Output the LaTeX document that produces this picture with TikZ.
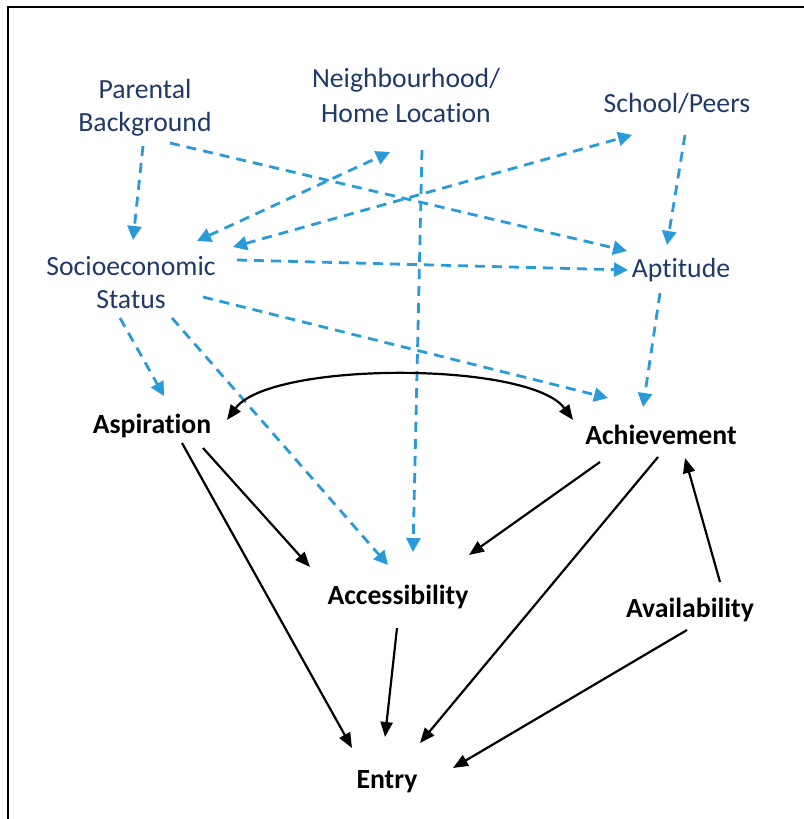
\documentclass[tikz,border=0pt]{standalone}
\usepackage{fontspec}
\setmainfont{Carlito}[Ligatures=NoCommon]
\usetikzlibrary{arrows.meta,calc}

\definecolor{navytext}{RGB}{31,58,104}
\definecolor{dashblue}{RGB}{41,155,216}

\begin{document}
\begin{tikzpicture}[
  x=0.5pt, y=-0.5pt,
  factor/.style={inner sep=0pt, align=center, text=navytext, font=\fontsize{13.85}{16.5}\selectfont},
  outcome/.style={inner sep=0pt, anchor=base, font=\fontsize{13.85}{16.5}\selectfont\bfseries},
  dasharrow/.style={-{Triangle[length=7pt,width=7pt]}, draw=dashblue, line width=1.4pt, dash pattern=on 5pt off 3.5pt},
  arrow/.style={-{Triangle[length=7.5pt,width=6pt]}, line width=1.1pt}
]
\useasboundingbox (0,0) rectangle (803,819);
\draw[line width=1pt] (8,840) -- (8,7) -- (820,7);

% background factors
\node[factor] (pb) at (145,108) {Parental\\Background};
\node[factor] (nh) at (406,95) {Neighbourhood/\\[1pt]Home Location};
\node[factor, anchor=base] (sp) at (677,112) {School/Peers};
\node[factor] (ses) at (131,283) {Socioeconomic\\Status};
\node[factor, anchor=base] (apt) at (681,277) {Aptitude};

% outcomes
\node[outcome] (asp) at (152,433) {Aspiration};
\node[outcome] (ach) at (661,444) {Achievement};
\node[outcome] (acc) at (398,604) {Accessibility};
\node[outcome] (ava) at (690,617) {Availability};
\node[outcome] (ent) at (387,788) {Entry};

\draw[dasharrow] ($(pb)+(-2,38)$) -- ($(ses)+(2,-43)$);
\draw[dasharrow] ($(pb)+(25,35)$) -- ($(apt.base)+(-54,-26)$);
\draw[dasharrow, {Triangle[length=7pt,width=7pt]}-{Triangle[length=7pt,width=7pt]}] ($(ses)+(66,-42)$) -- ($(nh)+(-16,57)$);
\draw[dasharrow, {Triangle[length=7pt,width=7pt]}-{Triangle[length=7pt,width=7pt]}] ($(ses)+(102,-36)$) -- ($(sp.base)+(-45,23)$);
\draw[dasharrow] ($(ses)+(106,-23)$) -- ($(apt.base)+(-53,-7)$);
\draw[dasharrow] ($(sp.base)+(8,23)$) -- ($(apt.base)+(-14,-32)$);
\draw[dasharrow] ($(nh)+(16,55)$) -- ($(acc.base)+(15,-52)$);
\draw[dasharrow] ($(ses)+(-11,35)$) -- ($(asp.base)+(12,-37)$);
\draw[dasharrow] ($(ses)+(41,35)$) -- ($(acc.base)+(-10,-39)$);
\draw[dasharrow] ($(ses)+(72,14)$) -- ($(ach.base)+(-53,-46)$);
\draw[dasharrow] ($(apt.base)+(-21,16)$) -- ($(ach.base)+(-18,-37)$);

\draw[arrow, {Triangle[length=7.5pt,width=6pt]}-{Triangle[length=7.5pt,width=6pt]}] ($(asp.base)+(75,-13)$) .. controls +(43,-59) and +(-43,-59) .. ($(ach.base)+(-88,-24)$);
\draw[arrow] ($(asp.base)+(51,15)$) -- ($(acc.base)+(-88,-37)$);
\draw[arrow] ($(asp.base)+(30,10)$) -- ($(ent.base)+(-35,-40)$);
\draw[arrow] ($(ach.base)+(-61,18)$) -- ($(acc.base)+(71,-49)$);
\draw[arrow] ($(ach.base)+(-3,13)$) -- ($(ent.base)+(33,-45)$);
\draw[arrow] ($(acc.base)+(-1,24)$) -- ($(ent.base)+(-2,-51)$);
\draw[arrow] ($(ava.base)+(30,-35)$) -- ($(ach.base)+(24,14)$);
\draw[arrow] ($(ava.base)+(-3,13)$) -- ($(ent.base)+(66,-20)$);

\end{tikzpicture}
\end{document}
